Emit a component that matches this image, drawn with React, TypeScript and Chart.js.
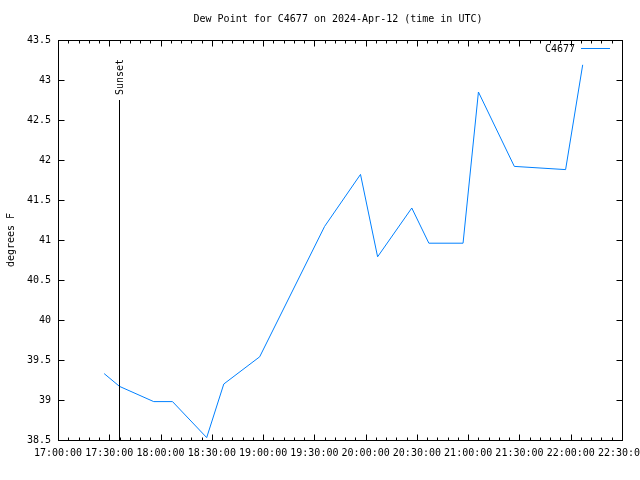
import React, { useEffect, useRef } from "react";
import { Chart, registerables } from "chart.js";

Chart.register(...registerables);

const TITLE = "Dew Point for C4677 on 2024-Apr-12 (time in UTC)";
const Y_LABEL = "degrees F";
const SERIES_NAME = "C4677";

const TIMES = [
  "17:27", "17:36", "17:56", "18:07", "18:27", "18:37", "18:58", "19:36", "19:57",
  "20:07", "20:27", "20:37", "20:57", "21:06", "21:27", "21:57", "22:07",
];
const DEW_F = [
  39.33, 39.17, 38.98, 38.98, 38.53, 39.2, 39.54, 41.17, 41.82,
  40.79, 41.4, 40.96, 40.96, 42.85, 41.92, 41.88, 43.19,
];

const X_MIN = "17:00";
const X_MAX = "22:30";
const X_STEP_HOURS = 0.5;
const X_MINOR_PER_MAJOR = 5;
const Y_MIN = 38.5;
const Y_MAX = 43.5;
const Y_STEP = 0.5;

const SUNSET_TIME = "17:36";
const SUNSET_TOP = 42.75;
const SUNSET_LABEL = "Sunset";

const LINE_COLOR = "#0080ff";
const FONT = "'DejaVu Sans Mono', monospace";

const toHours = (s: string) => {
  const [h, m] = s.split(":").map(Number);
  return h + m / 60;
};

const fmtTime = (v: number) => {
  const totalMin = Math.round(v * 60);
  const h = Math.floor(totalMin / 60);
  const m = totalMin % 60;
  return `${String(h).padStart(2, "0")}:${String(m).padStart(2, "0")}:00`;
};

const framePlugin = {
  id: "gnuplotFrame",
  afterDraw(chart: any) {
    const ctx = chart.ctx as CanvasRenderingContext2D;
    const ca = chart.chartArea;
    const xs = chart.scales.x;
    const ys = chart.scales.y;
    const L = Math.round(ca.left) + 0.5;
    const R = Math.round(ca.right) + 0.5;
    const T = Math.round(ca.top) + 0.5;
    const B = Math.round(ca.bottom) + 0.5;
    ctx.save();
    ctx.strokeStyle = "#000";
    ctx.lineWidth = 1;
    ctx.beginPath();
    // x ticks
    const xmin = toHours(X_MIN);
    const xmax = toHours(X_MAX);
    const minorStep = X_STEP_HOURS / X_MINOR_PER_MAJOR;
    const nMinor = Math.round((xmax - xmin) / minorStep);
    for (let i = 0; i <= nMinor; i++) {
      const v = xmin + i * minorStep;
      const px = Math.round(xs.getPixelForValue(v)) + 0.5;
      const len = i % X_MINOR_PER_MAJOR === 0 ? 6 : 3;
      ctx.moveTo(px, B);
      ctx.lineTo(px, B - len);
      ctx.moveTo(px, T);
      ctx.lineTo(px, T + len);
    }
    // y ticks
    const nY = Math.round((Y_MAX - Y_MIN) / Y_STEP);
    for (let i = 0; i <= nY; i++) {
      const v = Y_MIN + i * Y_STEP;
      const py = Math.round(ys.getPixelForValue(v)) + 0.5;
      ctx.moveTo(L, py);
      ctx.lineTo(L + 6, py);
      ctx.moveTo(R, py);
      ctx.lineTo(R - 6, py);
    }
    ctx.stroke();
    ctx.strokeRect(L, T, R - L, B - T);

    // sunset marker
    const sx = Math.floor(xs.getPixelForValue(toHours(SUNSET_TIME))) + 0.5;
    const sTop = ys.getPixelForValue(SUNSET_TOP);
    ctx.beginPath();
    ctx.moveTo(sx, B);
    ctx.lineTo(sx, sTop);
    ctx.stroke();

    ctx.fillStyle = "#000";
    ctx.font = `10px ${FONT}`;
    ctx.save();
    ctx.translate(sx + 0.5, sTop - 5);
    ctx.rotate(-Math.PI / 2);
    ctx.textAlign = "left";
    ctx.textBaseline = "middle";
    ctx.fillText(SUNSET_LABEL, 0, 0);
    ctx.restore();

    // title
    ctx.textAlign = "center";
    ctx.textBaseline = "middle";
    ctx.fillText(TITLE, 338, 19);

    // y label
    ctx.save();
    ctx.translate(11, (ca.top + ca.bottom) / 2);
    ctx.rotate(-Math.PI / 2);
    ctx.textAlign = "center";
    ctx.textBaseline = "middle";
    ctx.fillText(Y_LABEL, 0, 0);
    ctx.restore();

    // legend
    ctx.textAlign = "right";
    ctx.textBaseline = "middle";
    ctx.fillText(SERIES_NAME, 575, 49);
    ctx.strokeStyle = LINE_COLOR;
    ctx.beginPath();
    ctx.moveTo(581, 48.5);
    ctx.lineTo(610, 48.5);
    ctx.stroke();
    ctx.restore();
  },
};

export default function App() {
  const ref = useRef<HTMLCanvasElement | null>(null);

  useEffect(() => {
    if (!ref.current) return;
    const data = TIMES.map((t, i) => ({ x: toHours(t), y: DEW_F[i] }));
    const chart = new Chart(ref.current, {
      type: "line",
      data: {
        datasets: [
          {
            label: SERIES_NAME,
            data,
            borderColor: LINE_COLOR,
            borderWidth: 1,
            pointRadius: 0,
            tension: 0,
            fill: false,
          },
        ],
      },
      options: {
        animation: false,
        responsive: false,
        devicePixelRatio: 1,
        layout: { padding: { left: 0, top: 40, right: 18, bottom: 0 } },
        plugins: {
          legend: { display: false },
          tooltip: { enabled: false },
          title: { display: false },
        },
        scales: {
          x: {
            type: "linear",
            min: toHours(X_MIN),
            max: toHours(X_MAX),
            border: { display: false },
            grid: { display: false, drawTicks: false },
            ticks: {
              stepSize: X_STEP_HOURS,
              autoSkip: false,
              maxRotation: 0,
              minRotation: 0,
              padding: 7,
              color: "#000",
              font: { family: FONT, size: 10 },
              callback: (v: any) => fmtTime(Number(v)),
            },
            afterFit: (s: any) => {
              s.height = 40;
              s.paddingLeft = 0;
              s.paddingRight = 0;
            },
          },
          y: {
            type: "linear",
            min: Y_MIN,
            max: Y_MAX,
            border: { display: false },
            grid: { display: false, drawTicks: false },
            ticks: {
              stepSize: Y_STEP,
              padding: 7,
              color: "#000",
              font: { family: FONT, size: 10 },
              callback: (v: any) => String(Math.round(Number(v) * 10) / 10),
            },
            afterFit: (s: any) => {
              s.width = 58;
              s.paddingTop = 0;
              s.paddingBottom = 0;
            },
          },
        },
      },
      plugins: [framePlugin],
    });
    return () => chart.destroy();
  }, []);

  return (
    <div style={{ position: "absolute", left: 0, top: 0, width: 640, height: 480, background: "#fff" }}>
      <canvas ref={ref} width={640} height={480} />
    </div>
  );
}
